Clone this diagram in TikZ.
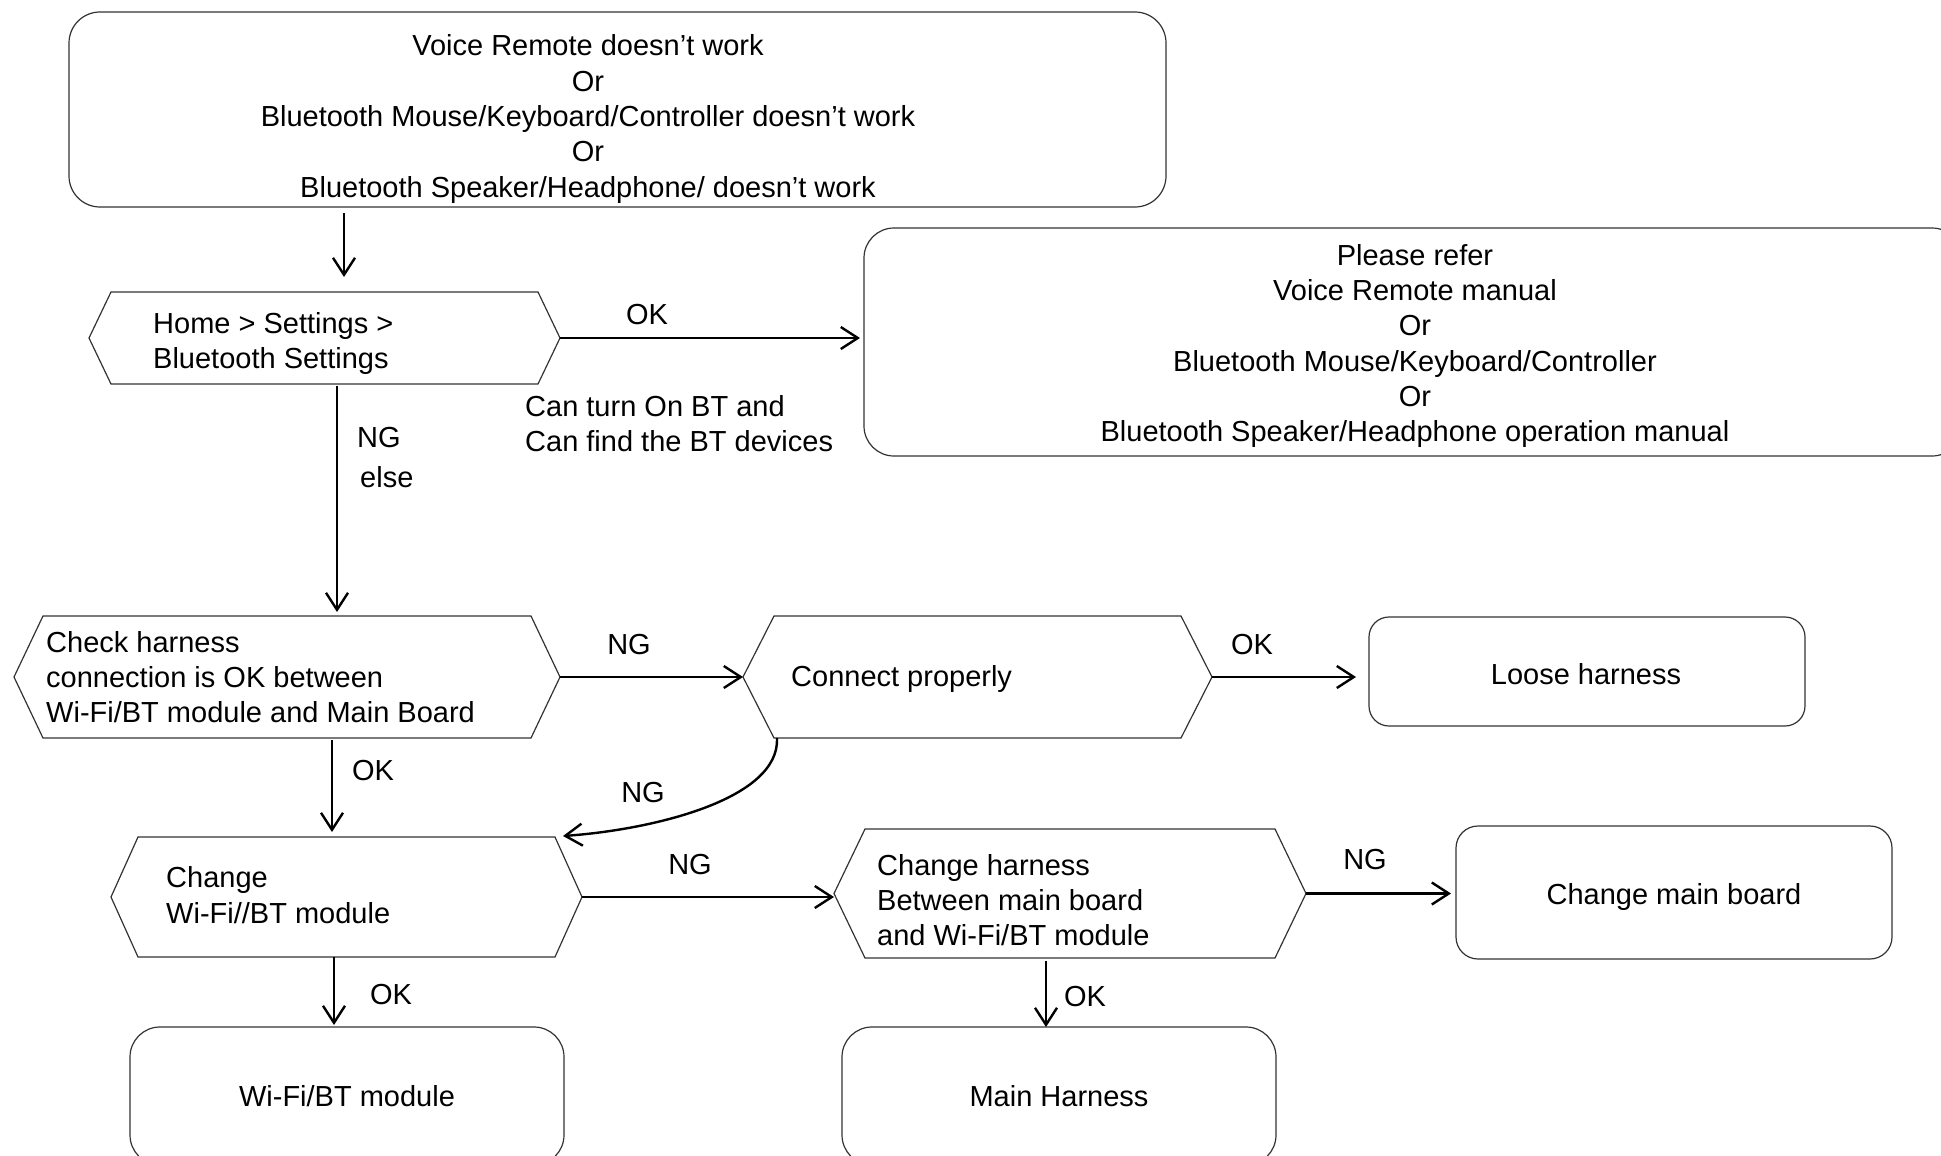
\documentclass[tikz,border=0pt]{standalone}
\usepackage{fontspec}
\setmainfont{Liberation Sans}
\usetikzlibrary{arrows.meta,calc}
\tikzset{
  boxline/.style={draw=black!80,line width=1.2pt},
  rbox/.style={boxline,rounded corners=#1,inner sep=0pt,outer sep=0pt,align=center},
  hexframe/.style={inner sep=0pt,outer sep=0pt,draw=none},
  arr/.style={line width=2.4pt,-{Straight Barb[length=17pt,width=22pt]}},
  lbl/.style={inner sep=0pt,align=left},
  txt/.style={inner sep=0pt,align=center},
}
\newcommand\hexbox[6]{%
  \node[hexframe,minimum width=#3,minimum height=#4] (#1) at #2 {};
  \draw[boxline] (#1.west) -- ([xshift=#5]#1.north west) -- ([xshift=-#5]#1.north east)
     -- (#1.east) -- ([xshift=-#5]#1.south east) -- ([xshift=#5]#1.south west) -- cycle;
  \node[lbl,anchor=west] (#1t) at #6 ;}
\begin{document}
\begin{tikzpicture}[x=1pt,y=-1pt,font=\fontsize{29}{35.3}\selectfont]
\useasboundingbox (0,0) rectangle (1941,1156);
\fill[white] (0,0) rectangle (1941,1156);
\clip (0,0) rectangle (1941,1156);

% rounded boxes
\node[rbox=31pt,minimum width=1097pt,minimum height=195pt] (top) at (617.5,109.5) {};
\node[txt] (topt) at (588,119) {Voice Remote doesn’t work\\Or\\Bluetooth Mouse/Keyboard/Controller doesn’t work\\Or\\Bluetooth Speaker/Headphone/ doesn’t work};
\node[rbox=30pt,minimum width=1098pt,minimum height=228pt] (rb) at (1413,342) {};
\node[txt] (rbt) at (1415,346) {Please refer\\Voice Remote manual\\Or\\Bluetooth Mouse/Keyboard/Controller\\Or\\Bluetooth Speaker/Headphone operation manual};
\node[rbox=20pt,minimum width=436pt,minimum height=109pt] (loose) at (1587,671.5) {};
\node[txt] (looset) at (1586,674.5) {Loose harness};
\node[rbox=22pt,minimum width=436pt,minimum height=133pt] (mb) at (1674,892.5) {};
\node[txt] (mbt) at (1674,896.5) {Change main board};
\node[rbox=30pt,minimum width=434pt,minimum height=138pt] (wifi) at (347,1096) {Wi-Fi/BT module};
\node[rbox=30pt,minimum width=434pt,minimum height=138pt] (harn) at (1059,1096) {Main Harness};

% hexagons
\hexbox{h1}{(324.5,338)}{471pt}{92pt}{22pt}{(153,343.5) {Home > Settings >\\Bluetooth Settings}}
\hexbox{h2}{(287,677)}{546pt}{122pt}{29pt}{(46,677) {Check harness\\connection is OK between\\Wi-Fi/BT module and Main Board}}
\hexbox{h3}{(977.5,677)}{469pt}{122pt}{31pt}{(791,678.5) {Connect properly}}
\hexbox{h4}{(346.5,897)}{471pt}{120pt}{27pt}{(166,895) {Change\\Wi-Fi//BT module}}
\hexbox{h5}{(1070,893.5)}{472pt}{129pt}{31pt}{(877,900) {Change harness\\Between main board\\and Wi-Fi/BT module}}

% helper x positions
\coordinate (xa) at (344,0);
\coordinate (xb) at (337,0);
\coordinate (xc) at (332,0);
\coordinate (xd) at (334,0);
\coordinate (xe) at (1046,0);

% connectors
\draw[arr,shorten <=6pt,shorten >=15pt] (top.south -| xa) -- (h1.north -| xa);
\draw[arr,shorten >=4pt] (h1.east) -- (h1.east -| rb.west);
\draw[arr,shorten <=2pt,shorten >=4pt] (h1.south -| xb) -- (h2.north -| xb);
\draw[arr] (h2.east) -- (h3.west);
\draw[arr,shorten >=13pt] (h3.east) -- (h3.east -| loose.west);
\draw[arr,shorten <=2pt,shorten >=5pt] (h2.south -| xc) -- (h4.north -| xc);
\draw[arr] ([xshift=34pt]h3.south west) .. controls (780,800) and (650,830) .. ([xshift=-19pt,yshift=1pt]h4.north east);
\draw[arr] (h4.east) -- (h4.east -| h5.west);
\draw[arr,shorten >=5pt] (h5.east) -- (h5.east -| mb.west);
\draw[arr,shorten >=2pt] (h4.south -| xd) -- (wifi.north -| xd);
\draw[arr,shorten <=3pt] (h5.south -| xe) -- (harn.north -| xe);

% labels
\node[inner sep=0pt] (l1) at (647,315) {OK};
\node[lbl,anchor=west] (l2) at (525,423.5) {Can turn On BT and\\Can find the BT devices};
\node[lbl,anchor=west] (l3) at (357,438) {NG};
\node[lbl,anchor=west] (l4) at (360,477) {else};
\node[inner sep=0pt] (l5) at (629,645) {NG};
\node[inner sep=0pt] (l6) at (1252,645) {OK};
\node[inner sep=0pt] (l7) at (373,771) {OK};
\node[inner sep=0pt] (l8) at (643,793) {NG};
\node[inner sep=0pt] (l9) at (690,865) {NG};
\node[inner sep=0pt] (l10) at (1365,860) {NG};
\node[inner sep=0pt] (l11) at (391,995) {OK};
\node[inner sep=0pt] (l12) at (1085,997) {OK};
\end{tikzpicture}
\end{document}
